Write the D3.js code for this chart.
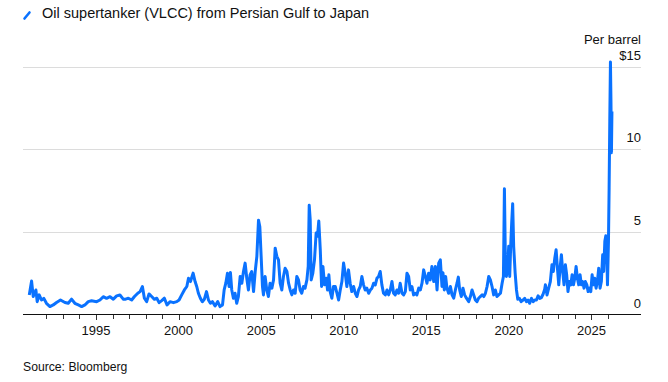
<!DOCTYPE html>
<html>
<head>
<meta charset="utf-8">
<script src="https://cdn.jsdelivr.net/npm/d3@7"></script>
<style>
  html, body { margin: 0; padding: 0; background: #fff; }
  svg { display: block; font-family: "Liberation Sans", Arial, Helvetica, sans-serif; }
</style>
</head>
<body>
<svg id="chart" width="668" height="382"></svg>
<script>
// ---- Data (decimal year, USD per barrel) ----
const title = "Oil supertanker (VLCC) from Persian Gulf to Japan";
const unitLabel = "Per barrel";
const source = "Source: Bloomberg";
const yTicks = [0, 5, 10, 15];
const yTickLabels = ["0", "5", "10", "$15"];
const xMajorYears = [1995, 2000, 2005, 2010, 2015, 2020, 2025];

const dates = [
  1990.96,1991.10,1991.20,1991.36,1991.44,1991.56,1991.70,1991.84,1992.00,1992.21,1992.41,1992.61,1992.85,
  1993.12,1993.32,1993.52,1993.72,1993.93,1994.13,1994.33,1994.53,1994.73,1995.04,1995.24,1995.44,1995.64,
  1995.85,1996.05,1996.25,1996.45,1996.65,
  1996.76,1996.96,1997.16,1997.33,1997.53,1997.67,1997.81,1997.93,1998.07,1998.21,1998.37,1998.54,1998.68,
  1998.82,1998.98,1999.14,1999.30,1999.48,1999.69,1999.89,2000.03,2000.19,2000.35,2000.50,2000.60,2000.72,
  2000.88,2001.00,2001.10,2001.20,2001.32,2001.44,2001.56,2001.69,2001.81,2001.93,2002.05,2002.21,2002.37,
  2002.51,2002.66,2002.76,2002.86,2002.96,2003.06,2003.14,
  2003.22,2003.32,2003.42,2003.52,2003.62,2003.73,2003.83,2003.93,2004.03,2004.13,2004.23,2004.33,2004.43,
  2004.54,2004.64,2004.74,2004.84,2004.92,2005.00,2005.08,2005.14,2005.24,2005.34,2005.44,2005.54,2005.65,
  2005.75,2005.85,2005.95,2006.05,2006.15,2006.25,2006.35,2006.45,2006.56,2006.66,2006.76,2006.86,2006.96,
  2007.06,2007.16,2007.26,2007.36,2007.46,2007.56,2007.66,2007.77,2007.85,2007.91,2007.97,2008.03,2008.13,
  2008.23,2008.33,2008.41,2008.49,2008.58,2008.66,2008.74,2008.84,2008.94,2009.02,2009.10,2009.18,2009.28,
  2009.38,
  2009.49,2009.59,2009.69,2009.79,2009.89,2009.99,2010.09,2010.19,2010.29,2010.39,2010.49,2010.60,2010.70,
  2010.80,2010.90,2011.00,2011.10,2011.20,2011.30,2011.40,2011.51,2011.61,2011.71,2011.81,2011.91,2012.01,
  2012.11,2012.21,2012.31,2012.41,2012.52,2012.62,2012.72,2012.82,2012.92,2013.02,2013.12,2013.22,2013.32,
  2013.42,2013.53,2013.63,2013.73,2013.83,2013.93,2014.03,2014.13,2014.23,2014.33,2014.43,2014.54,2014.64,
  2014.74,2014.84,2014.94,2015.04,2015.14,2015.24,2015.34,2015.45,2015.55,2015.65,2015.75,2015.85,
  2015.95,2016.01,2016.09,2016.17,2016.25,2016.35,2016.46,2016.56,2016.66,2016.76,2016.86,2016.94,2017.02,
  2017.12,2017.22,2017.32,2017.43,2017.57,2017.67,2017.77,2017.87,2017.97,2018.07,2018.17,2018.27,2018.38,
  2018.48,2018.58,2018.68,2018.78,2018.88,2018.98,2019.08,2019.18,2019.28,2019.38,2019.49,2019.59,2019.67,
  2019.73,2019.79,2019.85,2019.93,2019.99,2020.05,2020.11,2020.17,2020.23,2020.29,2020.38,2020.46,2020.54,
  2020.64,2020.74,2020.86,2020.96,2021.06,2021.16,2021.26,2021.37,2021.47,2021.57,2021.67,2021.77,2021.87,
  2021.97,2022.07,2022.17,
  2022.21,2022.31,2022.41,2022.51,2022.61,2022.69,2022.78,2022.86,2022.94,2023.02,2023.10,2023.18,2023.26,
  2023.34,2023.42,2023.50,2023.58,2023.66,2023.75,2023.83,2023.91,2023.99,2024.07,2024.15,2024.23,2024.31,
  2024.39,2024.47,2024.55,2024.63,2024.72,2024.80,2024.88,2024.96,2025.04,2025.12,2025.20,2025.28,2025.36,
  2025.44,2025.52,2025.60,2025.68,2025.74,2025.81,2025.87,2025.93,2025.97,2026.03,2026.07,2026.11,2026.15,
  2026.18,2026.21,2026.24
];

const prices = [
  1.16,2.00,1.06,1.46,0.75,1.16,0.85,0.95,0.65,0.45,0.55,0.70,0.85,
  0.70,0.65,0.90,0.65,0.55,0.45,0.55,0.75,0.80,0.75,0.85,1.05,0.95,
  1.05,0.90,1.10,1.15,0.90,
  0.89,0.96,0.85,1.06,1.26,1.36,1.67,0.96,0.75,1.22,1.06,0.89,0.96,
  0.69,0.81,0.96,0.55,0.75,0.69,0.75,0.85,1.16,1.46,1.67,2.17,1.97,
  2.48,1.97,1.67,1.26,0.96,0.75,0.89,1.36,0.85,0.65,0.75,0.49,0.75,
  0.45,0.55,1.46,1.87,2.48,1.67,2.52,
  1.46,0.96,1.26,0.65,1.06,2.28,1.87,2.58,3.09,2.17,1.46,2.38,2.58,
  1.36,2.58,3.50,5.70,5.30,3.50,1.67,1.16,2.28,1.46,1.06,1.87,1.57,
  2.07,4.00,3.50,3.29,1.87,1.46,2.28,2.78,2.58,1.87,1.46,1.16,1.46,
  1.26,2.28,2.07,1.46,1.26,1.67,1.57,2.07,2.89,6.60,5.73,2.07,2.48,
  3.29,4.92,4.72,5.65,3.90,1.67,2.89,1.77,2.17,1.46,2.38,1.36,0.96,
  1.67,
  1.67,1.26,0.85,1.46,1.97,3.09,2.48,1.67,2.68,1.87,1.36,1.67,1.26,
  1.06,1.46,1.67,2.28,1.77,1.46,1.57,1.26,1.46,1.57,1.87,1.77,2.17,
  2.28,2.58,1.77,1.26,1.16,1.46,1.16,1.46,1.97,1.26,1.16,1.46,1.26,
  1.87,1.26,1.16,1.36,2.48,2.28,1.46,1.67,1.16,1.26,1.16,1.57,1.46,
  1.87,2.68,2.28,1.87,2.48,2.07,2.89,1.97,2.89,1.46,3.09,3.29,
  1.67,2.50,1.46,2.28,1.57,1.26,1.67,1.16,0.96,1.46,1.87,2.24,1.46,
  1.06,1.57,1.16,0.96,0.75,1.06,1.46,1.16,0.85,0.75,0.96,1.06,1.16,
  1.06,1.26,1.67,2.28,2.07,1.67,1.16,1.46,1.06,1.16,1.26,1.87,2.28,
  7.60,3.09,2.28,2.99,4.11,2.28,4.11,5.53,6.70,4.11,2.48,1.46,0.90,
  0.95,0.75,0.85,0.95,0.75,0.85,0.65,0.95,0.75,0.85,0.85,1.10,0.95,
  1.00,1.20,1.50,
  1.77,1.16,1.57,1.97,2.99,2.58,3.39,3.90,2.78,1.77,2.78,3.60,2.58,
  1.77,2.99,2.38,1.36,1.97,1.77,2.38,1.77,2.17,2.89,2.17,1.77,2.38,
  1.77,1.97,1.57,1.97,1.77,1.36,1.57,1.36,2.38,1.77,2.17,1.57,1.97,
  2.78,1.57,1.97,3.60,2.58,4.41,4.75,3.60,1.77,4.41,7.66,11.73,15.30,
  13.00,9.80,12.30
];

// ---- Layout ----
const svg = d3.select("#chart");
const mLeft = 23, mRight = 641, mTop = 67, mBottom = 314;
const lineColor = "#0a72ff";

const x = d3.scaleLinear().domain([1990.58, 2028.0]).range([mLeft, mRight]);
const y = d3.scaleLinear().domain([0, 15]).range([mBottom, mTop]);

// Title with icon
svg.append("line")
  .attr("x1", 24.5).attr("y1", 18.5).attr("x2", 29.5).attr("y2", 12.5)
  .attr("stroke", lineColor).attr("stroke-width", 2.6).attr("stroke-linecap", "round");
svg.append("text")
  .attr("x", 42).attr("y", 18)
  .attr("font-size", 14.5).attr("fill", "#111")
  .text(title);

// Gridlines
svg.append("g").selectAll("line")
  .data(yTicks.filter(d => d > 0))
  .join("line")
  .attr("x1", mLeft).attr("x2", mRight)
  .attr("y1", d => Math.round(y(d)) + 0.5).attr("y2", d => Math.round(y(d)) + 0.5)
  .attr("stroke", "#dcdcdc").attr("stroke-width", 1);

// Y labels (right aligned, above gridlines)
svg.append("g").selectAll("text")
  .data(yTicks)
  .join("text")
  .attr("x", mRight).attr("y", (d) => y(d) - (d === 0 ? 6 : 7))
  .attr("text-anchor", "end")
  .attr("font-size", 13).attr("fill", "#111")
  .text((d, i) => yTickLabels[i]);

svg.append("text")
  .attr("x", mRight).attr("y", 44)
  .attr("text-anchor", "end")
  .attr("font-size", 13).attr("fill", "#111")
  .text(unitLabel);

// Line
const pts = dates.map((d, i) => [d, prices[i]]);
const line = d3.line().x(d => x(d[0])).y(d => y(d[1]));
svg.append("path")
  .datum(pts)
  .attr("d", line)
  .attr("fill", "none")
  .attr("stroke", lineColor)
  .attr("stroke-width", 3)
  .attr("stroke-linejoin", "round");

// X axis
const minorYears = d3.range(1992, 2027);
const axis = svg.append("g").attr("transform", `translate(0,${mBottom})`);
axis.append("line")
  .attr("x1", mLeft).attr("x2", mRight).attr("y1", 0.5).attr("y2", 0.5)
  .attr("stroke", "#111").attr("stroke-width", 1.2);
axis.selectAll("line.tick")
  .data(minorYears)
  .join("line")
  .attr("class", "tick")
  .attr("x1", d => Math.round(x(d)) + 0.5).attr("x2", d => Math.round(x(d)) + 0.5)
  .attr("y1", 1).attr("y2", d => xMajorYears.includes(d) ? 6 : 5)
  .attr("stroke", "#333").attr("stroke-width", 1);
axis.selectAll("text")
  .data(xMajorYears)
  .join("text")
  .attr("x", d => x(d)).attr("y", 21)
  .attr("text-anchor", "middle")
  .attr("font-size", 13).attr("fill", "#111")
  .text(d => d);

// Source
svg.append("text")
  .attr("x", 23).attr("y", 371)
  .attr("font-size", 12.2).attr("fill", "#111")
  .text(source);
</script>
</body>
</html>
